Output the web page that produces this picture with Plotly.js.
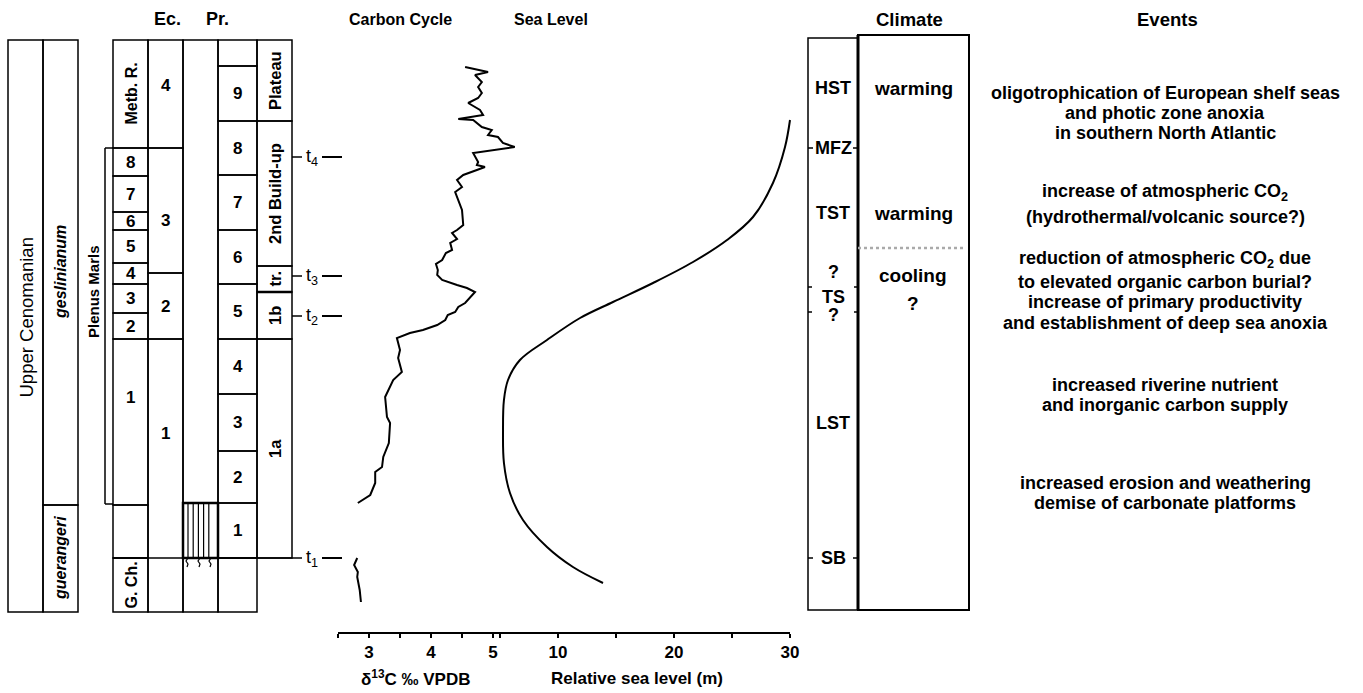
<!DOCTYPE html>
<html><head><meta charset="utf-8">
<script src="https://cdn.plot.ly/plotly-3.0.1.min.js"></script>
<style>body{margin:0;background:#fff}#chart{width:1363px;height:693px}</style>
</head><body><div id="chart"></div>
<script>
// ================= DATA (stratigraphic height in m above base of section) =================
const stageNames = ['Upper Cenomanian'];
const stageBounds = [0, 11.44];
const stageLabelAt = [5.88];

const ammoniteNames = ['guerangeri', 'geslinianum'];
const ammoniteBounds = [0, 2.14, 11.44];

const ecBedNames = ['G. Ch.', '', '1', '2', '3', '4', '5', '6', '7', '8', 'Metb. R.'];
const ecBedBounds = [0, 1.08, 2.14, 5.46, 5.98, 6.56, 6.98, 7.64, 8.0, 8.72, 9.28, 11.44];
const ecBedLabelAt = [null, null, 4.3, null, null, null, null, null, null, null, 10.36];

const ecZoneNames = ['1', '2', '3', '4'];
const ecZoneBounds = [0, 5.46, 6.78, 9.28, 11.44];
const ecZoneLabelAt = [3.58, null, 7.84, 10.54];

const prBedNames = ['', '1', '2', '3', '4', '5', '6', '7', '8', '9', ''];
const prBedBounds = [0, 1.08, 2.18, 3.22, 4.36, 5.46, 6.56, 7.64, 8.74, 9.82, 10.92, 11.44];

const phaseNames = ['1a', '1b', 'tr.', '2nd Build-up', 'Plateau'];
const phaseBounds = [1.08, 5.46, 6.4, 6.92, 9.82, 11.44];

const blackShaleBed = [1.08, 2.18];
const plenusMarls = [2.16, 9.28];
const plenusLabelAt = 6.4;

const tNames = ['t1', 't2', 't3', 't4'];
const tLevels = [1.08, 5.92, 6.72, 9.1];

// Carbon isotope curve (δ13C ‰ VPDB vs height)
const carbonHeight = [10.9, 10.8, 10.74, 10.6, 10.5, 10.38, 10.28, 10.18, 10.04, 9.94, 9.86, 9.84, 9.7, 9.64, 9.54, 9.5, 9.38, 9.3, 9.18, 9.0, 8.94, 8.9, 8.84, 8.74, 8.64, 8.5, 8.4, 8.24, 8.04, 7.74, 7.64, 7.58, 7.46, 7.38, 7.24, 7.18, 7.04, 6.96, 6.84, 6.74, 6.64, 6.54, 6.48, 6.4, 6.3, 6.18, 6.1, 6.0, 5.94, 5.88, 5.84, 5.74, 5.64, 5.58, 5.48, 5.24, 5.08, 4.8, 4.64, 4.3, 3.9, 3.78, 3.38, 3.1, 2.9, 2.8, 2.58, 2.34, 2.18,
  null, 1.08, 0.94, 0.8, 0.7, 0.44, 0.2];
const carbonD13C = [4.55, 4.92, 4.71, 4.82, 4.76, 4.82, 4.76, 4.6, 4.79, 4.84, 4.44, 4.68, 4.82, 4.98, 4.92, 5.08, 5.16, 5.35, 4.68, 4.76, 4.74, 4.87, 4.74, 4.52, 4.42, 4.5, 4.39, 4.44, 4.5, 4.52, 4.42, 4.34, 4.42, 4.31, 4.34, 4.24, 4.18, 4.08, 4.11, 4.1, 4.18, 4.42, 4.58, 4.71, 4.63, 4.55, 4.44, 4.39, 4.27, 4.24, 4.23, 4.1, 3.87, 3.66, 3.45, 3.5, 3.47, 3.53, 3.39, 3.26, 3.29, 3.34, 3.32, 3.23, 3.21, 3.1, 3.1, 3.02, 2.82,
  null, 2.81, 2.76, 2.82, 2.81, 2.85, 2.87];

// Relative sea level (m) vs height
const seaHeight = [9.84, 9.3, 8.58, 7.9, 7.44, 7.0, 6.58, 6.2, 5.88, 5.44, 5.04, 4.64, 4.24, 3.64, 2.98, 2.38, 1.84, 1.3, 0.9, 0.58];
const seaLevel  = [30.0, 29.57, 28.53, 26.81, 24.57, 21.64, 18.19, 14.74, 11.9, 9.05, 6.72, 5.69, 5.34, 5.26, 5.34, 5.86, 6.98, 9.05, 11.29, 13.88];

const carbonTicks = [2.5, 3, 3.5, 4, 4.5, 5];
const carbonTickText = ['', '3', '', '4', '', '5'];
const seaTicks = [5, 10, 15, 20, 25, 30];
const seaTickText = ['', '10', '', '20', '', '30'];

// Sequence stratigraphy and climate
const seqLabels = ['HST', 'MFZ', 'TST', '?', 'TS', '?', 'LST', 'SB'];
const seqHeights = [10.48, 9.28, 7.98, 6.8, 6.3, 5.94, 3.78, 1.08];
const seqTickLevels = [9.28, 6.5, 6.0, 1.08];
const climateLabels = ['warming', 'warming', 'cooling', '?'];
const climateHeights = [10.48, 7.98, 6.74, 6.18];
const climateBoundary = 7.28;

// Events
const eventLines = [
  'oligotrophication of European shelf seas', 'and photic zone anoxia', 'in southern North Atlantic',
  'increase of atmospheric CO<sub>2</sub>', '(hydrothermal/volcanic source?)',
  'reduction of atmospheric CO<sub>2</sub> due', 'to elevated organic carbon burial?',
  'increase of primary productivity', 'and establishment of deep sea anoxia',
  'increased riverine nutrient', 'and inorganic carbon supply',
  'increased erosion and weathering', 'demise of carbonate platforms'];
const eventHeights = [10.38, 9.98, 9.58, 8.4, 7.9, 7.05, 6.6, 6.2, 5.78, 4.54, 4.14, 2.58, 2.18];

// ================= LAYOUT HELPERS =================
const W = 1363, H = 693;
const FONT = 'Liberation Sans, Arial, sans-serif';
const px = v => v / W;
const py = v => 1 - v / H;
const shapes = [], annotations = [];
const LW = 1.5;

function rect(x0, x1, y0, y1, w) {
  shapes.push({type: 'rect', xref: 'paper', yref: 'y', x0: px(x0), x1: px(x1), y0: y0, y1: y1,
    line: {color: '#000', width: w || LW}});
}
function line(x0, x1, y0, y1, w, extra) {
  shapes.push(Object.assign({type: 'line', xref: 'paper', yref: 'y', x0: px(x0), x1: px(x1), y0: y0, y1: y1,
    line: {color: '#000', width: w || LW}}, extra || {}));
}
function label(text, x, y, o) {
  o = o || {};
  annotations.push({text: text, xref: 'paper', yref: o.paperY ? 'paper' : 'y', x: px(x), y: y,
    showarrow: false, xanchor: o.xanchor || 'center', yanchor: 'middle', textangle: o.rot ? -90 : 0,
    font: {family: FONT, size: o.size || 17, color: '#000', weight: o.weight || 'bold', style: o.italic ? 'italic' : 'normal'}});
}
function column(x0, x1, names, bounds, labelAt, o) {
  names.forEach((n, i) => {
    rect(x0, x1, bounds[i], bounds[i + 1], o && o.lw);
    if (n) {
      const yy = (labelAt && labelAt[i] != null) ? labelAt[i] : (bounds[i] + bounds[i + 1]) / 2;
      label(n, (x0 + x1) / 2, yy, o);
    }
  });
}

// Columns (pixel x positions of the graphic)
column(8, 43, stageNames, stageBounds, stageLabelAt, {rot: true, weight: 'normal', size: 18.5});
column(43, 78, ammoniteNames, ammoniteBounds, null, {rot: true, italic: true, size: 16});
column(113, 148, ecBedNames, ecBedBounds, ecBedLabelAt, {size: 17});
annotations.forEach(a => { if (a.text === 'G. Ch.' || a.text === 'Metb. R.') { a.textangle = -90; a.font.size = 16; } });
column(148, 183, ecZoneNames, ecZoneBounds, ecZoneLabelAt, {size: 17});
rect(183, 218, stageBounds[0], stageBounds[1]);
rect(183, 218, blackShaleBed[0], blackShaleBed[1], 2.5);
for (let x = 188; x <= 213; x += 5.2) line(x, x, blackShaleBed[0], blackShaleBed[1], 1.2);
// small burrow marks below the laminated bed
[188, 200, 211].forEach(x => {
  const b = blackShaleBed[0];
  shapes.push({type: 'path', xref: 'paper', yref: 'y',
    path: 'M' + px(x) + ',' + b + ' L' + px(x - 2) + ',' + (b - 0.06) + ' L' + px(x) + ',' + (b - 0.12) + ' L' + px(x - 1) + ',' + (b - 0.18),
    line: {color: '#000', width: 1.2}});
});
column(218, 257, prBedNames, prBedBounds, null, {size: 17});
column(257, 292, phaseNames, phaseBounds, null, {rot: true, size: 16.5});
line(257, 292, phaseBounds[2], phaseBounds[2], 2.5);

// Plenus Marls bracket
line(105, 105, plenusMarls[0], plenusMarls[1]);
line(105, 113, plenusMarls[0], plenusMarls[0]);
line(105, 113, plenusMarls[1], plenusMarls[1]);
label('Plenus Marls', 93, plenusLabelAt, {rot: true, size: 15});

// t-levels
tLevels.forEach((t, i) => {
  line(i === 0 ? 113 : 292, 302, t, t);
  line(322, 342, t, t, 2);
  label('t<sub>' + tNames[i].slice(1) + '</sub>', 312, t, {weight: 'normal', size: 18});
});

// Sequence stratigraphy + climate columns
rect(808, 858, 0.04, 11.48);
rect(858, 969, 0.04, 11.54, 2);
line(858, 858, 0.04, 11.54, 3);
seqLabels.forEach((s, i) => label(s, 833, seqHeights[i], {size: 18}));
seqTickLevels.forEach((t, i) => {
  const w = (i === 0 || i === 3) ? 5 : 4;
  line(808, 808 + w, t, t);
  line(858 - w, 858, t, t);
});
line(858, 966, climateBoundary, climateBoundary, 2.5, {line: {color: '#aaa', width: 2.5, dash: 'dot'}});
climateLabels.forEach((c, i) => label(c, 913, climateHeights[i], {size: 19, weight: 900}));

// Events
eventLines.forEach((e, i) => label(e, 1165, eventHeights[i], {size: 18}));

// Headers
[['Ec.', 167, 18], ['Pr.', 217, 18], ['Carbon Cycle', 400, 16], ['Sea Level', 551, 16], ['Climate', 910, 18.5], ['Events', 1167, 18.5]]
  .forEach(h => label(h[0], h[1], py(19), {paperY: true, size: h[2]}));

// Axis titles
label('δ<sup>13</sup>C ‰ VPDB', 416, py(678), {paperY: true, size: 17});
label('Relative sea level (m)', 637, py(678), {paperY: true, size: 17});

// Bottom axis line
shapes.push({type: 'line', xref: 'paper', yref: 'paper', x0: px(338), x1: px(790), y0: py(633), y1: py(633),
  line: {color: '#000', width: 2}});

// ================= TRACES =================
const traces = [
  {x: carbonD13C, y: carbonHeight, xaxis: 'x', yaxis: 'y', mode: 'lines', connectgaps: false,
   line: {color: '#000', width: 2}, hoverinfo: 'skip'},
  {x: seaLevel, y: seaHeight, xaxis: 'x2', yaxis: 'y', mode: 'lines',
   line: {color: '#000', width: 2, shape: 'spline'}, hoverinfo: 'skip'}
];

const axisCommon = {anchor: 'free', position: py(633), showline: false, showgrid: false, zeroline: false,
  ticks: 'outside', ticklen: 4, tickwidth: 1.5, tickcolor: '#000', tickmode: 'array',
  tickfont: {family: FONT, size: 17, color: '#000', weight: 'bold'}, fixedrange: true};

const layout = {
  width: W, height: H, margin: {l: 0, r: 0, t: 0, b: 0}, paper_bgcolor: '#fff', plot_bgcolor: 'rgba(0,0,0,0)',
  showlegend: false,
  xaxis: Object.assign({}, axisCommon, {domain: [px(338), px(530)], range: [2.5, 2.5 + 192 / 62],
    tickvals: carbonTicks, ticktext: carbonTickText}),
  xaxis2: Object.assign({}, axisCommon, {domain: [px(500), px(800)], range: [5, 5 + 300 / 11.6],
    tickvals: seaTicks, ticktext: seaTickText}),
  yaxis: {domain: [0, 1], range: [-1.62, 12.24], visible: false, fixedrange: true},
  shapes: shapes, annotations: annotations
};

Plotly.newPlot('chart', traces, layout, {displayModeBar: false, staticPlot: true});
</script></body></html>
